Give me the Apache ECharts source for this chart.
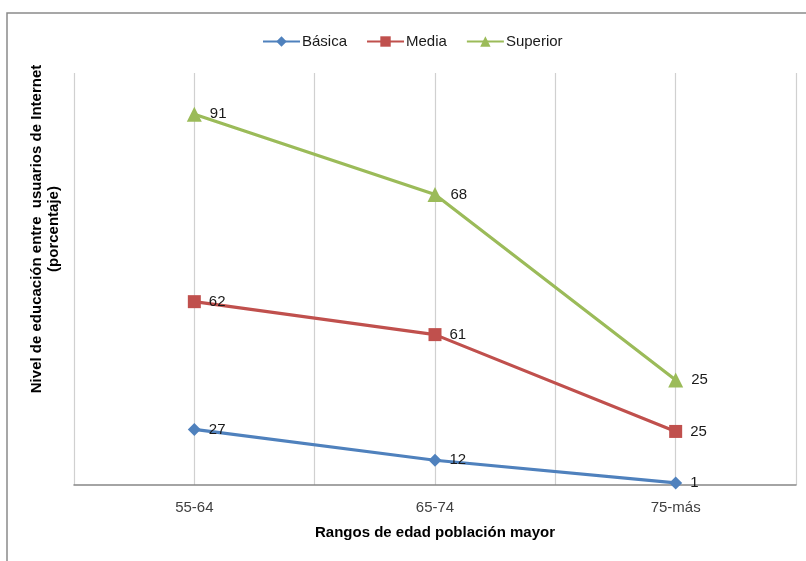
<!DOCTYPE html>
<html>
<head>
<meta charset="utf-8">
<script src="https://cdn.jsdelivr.net/npm/echarts@6/dist/echarts.min.js"></script>
<style>
  html, body { margin: 0; padding: 0; background: #fff; }
  #chart { width: 806px; height: 561px; }
</style>
</head>
<body>
<div id="chart"></div>
<script>
// Age ranges of the older population
const categories = ['55-64', '65-74', '75-más'];
// Education level among Internet users (percent), one array per level
const basica = [27, 12, 1];
const media = [62, 61, 25];
const superior = [91, 68, 25];

const seriesNames = ['Básica', 'Media', 'Superior'];
const colors = ['#4F81BD', '#C0504D', '#9BBB59'];
const symbols = ['diamond', 'rect', 'triangle'];
const values = [basica, media, superior];

const FONT = 'Liberation Sans, Arial, sans-serif';

const chart = echarts.init(document.getElementById('chart'), null, { renderer: 'canvas' });

const series = values.map((v, i) => ({
  name: seriesNames[i],
  type: 'line',
  stack: 'nivel',
  xAxisIndex: 0,
  data: v,
  symbol: symbols[i],
  symbolSize: i === 2 ? 15 : 13,
  lineStyle: { color: colors[i], width: 3.2 },
  itemStyle: { color: colors[i] },
  label: {
    show: true,
    position: 'right',
    distance: 8,
    color: '#1a1a1a',
    fontFamily: FONT,
    fontSize: 15
  },
  emphasis: { disabled: true },
  animation: false
}));

chart.setOption({
  animation: false,
  color: colors,
  grid: { left: 74, right: 10, top: 73, bottom: 76, containLabel: false },
  legend: {
    top: 29,
    left: 257,
    itemWidth: 37,
    itemHeight: 13,
    itemGap: 19,
    textStyle: { fontFamily: FONT, fontSize: 15, color: '#1a1a1a', padding: [0, 0, 0, -3] },
    data: seriesNames
  },
  xAxis: [
    {
      type: 'category',
      data: categories,
      boundaryGap: true,
      axisLine: { lineStyle: { color: '#868686', width: 1.5 } },
      axisTick: { show: false },
      axisLabel: { color: '#404040', fontFamily: FONT, fontSize: 15, margin: 15 },
      splitLine: { show: false },
      name: 'Rangos de edad población mayor',
      nameLocation: 'middle',
      nameGap: 40,
      nameTextStyle: { fontFamily: FONT, fontSize: 15, fontWeight: 'bold', color: '#000' }
    },
    {
      // half-category grid: one vertical line at every point and every boundary
      type: 'category',
      data: ['', '', '', '', '', ''],
      boundaryGap: true,
      position: 'bottom',
      axisLine: { show: false },
      axisTick: { show: false },
      axisLabel: { show: false },
      splitLine: { show: true, lineStyle: { color: '#d0d0d0', width: 1.2 } }
    }
  ],
  yAxis: {
    type: 'value',
    min: 0,
    max: 200,
    interval: 50,
    axisLine: { show: false },
    axisTick: { show: false },
    axisLabel: { show: false },
    splitLine: { show: false }
  },
  graphic: [
    {
      type: 'rect',
      shape: { x: 7, y: 13, width: 820, height: 600 },
      style: { fill: 'none', stroke: '#8a8a8a', lineWidth: 1.5 },
      silent: true,
      z: -1
    },
    {
      type: 'text',
      x: 45,
      y: 229,
      rotation: Math.PI / 2,
      style: {
        text: 'Nivel de educación entre  usuarios de Internet\n(porcentaje)',
        fontFamily: FONT,
        fontSize: 15,
        fontWeight: 'bold',
        fill: '#000',
        align: 'center',
        verticalAlign: 'middle',
        lineHeight: 17
      },
      silent: true
    }
  ],
  series: series
});
</script>
</body>
</html>
